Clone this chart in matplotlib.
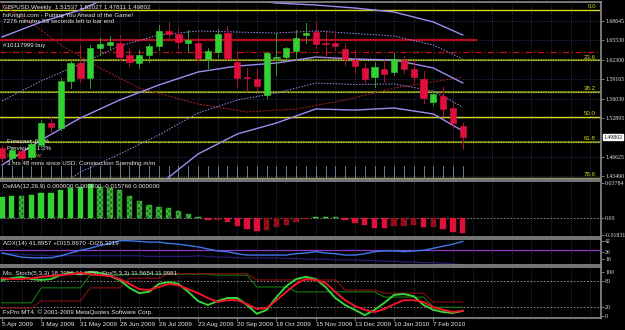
import numpy as np
import pandas as pd
import matplotlib.pyplot as plt
from matplotlib.patches import Rectangle

plt.rcParams['font.family'] = 'Liberation Sans'
plt.rcParams['font.size'] = 4.5

W, H = 625, 330
GRID = '#34386a'
AXC = '#8c8c8c'
TXT = '#e6e6e6'
LAV = '#9d8cf0'
UP = '#33d133'
DN = '#e0103c'

# ---- weekly GBPUSD bars (5 Apr 2009 .. 28 Feb 2010)
dates = pd.date_range('2009-04-05', periods=48, freq='7D')
op = [1.4803, 1.4641, 1.4755, 1.4657, 1.4852, 1.5210, 1.5128, 1.5892, 1.6184, 1.5940,
      1.6427, 1.6476, 1.6509, 1.6314, 1.6184, 1.6314, 1.6460, 1.6704, 1.6655, 1.6509,
      1.6509, 1.6249, 1.6362, 1.6671, 1.6200, 1.5957, 1.5924, 1.5664, 1.6265, 1.6281,
      1.6379, 1.6639, 1.6687, 1.6509, 1.6509, 1.6411, 1.6233, 1.6103, 1.5957, 1.6086,
      1.6038, 1.6233, 1.6086, 1.5924, 1.5551, 1.5648, 1.5453, 1.51537]
hi = [1.4852, 1.4820, 1.4803, 1.4934, 1.5258, 1.5307, 1.5940, 1.6233, 1.6476, 1.6476,
      1.6590, 1.6622, 1.6639, 1.6427, 1.6395, 1.6492, 1.6801, 1.6850, 1.6752, 1.6720,
      1.6622, 1.6427, 1.6736, 1.6785, 1.6362, 1.6103, 1.6086, 1.6362, 1.6671, 1.6444,
      1.6720, 1.6833, 1.6850, 1.6720, 1.6687, 1.6509, 1.6395, 1.6184, 1.6200, 1.6233,
      1.6346, 1.6298, 1.6233, 1.6054, 1.5713, 1.5794, 1.5551, 1.52027]
lo = [1.4576, 1.4592, 1.4592, 1.4625, 1.4820, 1.5047, 1.5096, 1.5778, 1.5875, 1.5778,
      1.6314, 1.6395, 1.6233, 1.6135, 1.6103, 1.6200, 1.6395, 1.6590, 1.6427, 1.6362,
      1.6200, 1.6103, 1.6281, 1.6233, 1.5794, 1.5745, 1.5745, 1.5615, 1.5989, 1.6233,
      1.6233, 1.6509, 1.6427, 1.6281, 1.6395, 1.6151, 1.6022, 1.5875, 1.5794, 1.5875,
      1.5989, 1.6022, 1.5859, 1.5534, 1.5502, 1.5323, 1.5128, 1.47811]
cl = [1.4641, 1.4771, 1.4641, 1.4868, 1.5210, 1.5145, 1.5892, 1.6184, 1.5940, 1.6427,
      1.6492, 1.6525, 1.6281, 1.6200, 1.6314, 1.6460, 1.6704, 1.6655, 1.6525, 1.6557,
      1.6265, 1.6379, 1.6655, 1.6265, 1.5940, 1.5940, 1.5810, 1.6346, 1.6281, 1.6427,
      1.6590, 1.6671, 1.6492, 1.6492, 1.6460, 1.6249, 1.6135, 1.5924, 1.6119, 1.6005,
      1.6249, 1.6086, 1.5957, 1.5615, 1.5680, 1.5437, 1.5210, 1.49802]

# ---- overlay lines on the price chart (anchor bar, price)
band_x = [0, 4, 8, 12, 16, 20, 24, 28, 32, 36, 40, 44, 47]
band_mid = [1.4527, 1.4934, 1.5291, 1.5583, 1.5827, 1.6038, 1.6135, 1.6184, 1.6281, 1.6249, 1.6233, 1.6103, 1.5859]
band_up = [1.6606, 1.6850, 1.7045, 1.7337, 1.7451, 1.7369, 1.7240, 1.7158, 1.7126, 1.7077, 1.7012, 1.6850, 1.6639]
band_up1 = [1.5567, 1.5892, 1.6168, 1.6460, 1.6639, 1.6704, 1.6687, 1.6671, 1.6704, 1.6663, 1.6622, 1.6476, 1.6249]
band_lo1 = [1.3487, 1.3975, 1.4413, 1.4706, 1.5015, 1.5372, 1.5583, 1.5697, 1.5859, 1.5835, 1.5843, 1.5729, 1.5469]
band_lo = [1.2450, 1.3000, 1.3537, 1.3829, 1.4202, 1.4706, 1.5031, 1.5210, 1.5437, 1.5420, 1.5453, 1.5356, 1.5080]
ma_x = [0, 4, 6, 10, 14, 20, 25, 30, 35, 40, 47]
ma_long = [1.7126, 1.6720, 1.6476, 1.6103, 1.5778, 1.5518, 1.5388, 1.5437, 1.5583, 1.5778, 1.5956]

order_price = 1.6557
stop_price = 1.6362
fib_names = ['0.0', '23.6', '38.2', '50.0', '61.8', '78.6']
fib_prices = [1.7045, 1.6226, 1.5719, 1.5310, 1.4901, 1.4318]
price_ticks = [1.68645, 1.65530, 1.62300, 1.59165, 1.56030, 1.52895, 1.46625, 1.43490]
last_price = 1.49802

# ---- OsMA(12,26,9)
osma = [0.0227, 0.0238, 0.0235, 0.0249, 0.0270, 0.0272, 0.0303, 0.0324, 0.0335, 0.0368,
        0.0335, 0.0324, 0.0303, 0.0238, 0.0184, 0.0141, 0.0119, 0.0108, 0.0076, 0.0043,
        0.0011, -0.0022, -0.0022, -0.0043, -0.0086, -0.0119, -0.0141, -0.0130, -0.0097, -0.0076,
        -0.0043, -0.0011, 0.0008, 0.0012, 0.0010, -0.0022, -0.0054, -0.0076, -0.0108, -0.0110,
        -0.0086, -0.0086, -0.0076, -0.0097, -0.0097, -0.0119, -0.0151, -0.0158]

# ---- ADX(14)
adx = [25, 22, 19, 18, 18, 18, 21, 25, 29, 32, 36, 39, 43, 43, 42, 41, 41, 39, 38, 36,
       34, 31, 28, 27, 24, 22, 22, 22, 22, 22, 24, 25, 27, 25, 24, 22, 22, 24, 27, 28,
       28, 27, 28, 29, 32, 35, 38, 41.9]
di_line = [25, 24, 23, 22, 22, 21, 21, 21, 21, 21, 21, 21, 21, 21, 21, 20, 20, 20, 20, 20,
           21, 20, 19, 19, 18, 18, 18, 18, 18, 17, 17, 16, 16, 16, 15, 15, 15, 14, 14, 13,
           13, 12, 12, 11, 11, 10, 9, 8]
adx_level = 30

# ---- Stochastic(5,3,3) weekly and monthly
stoch_k = [82, 86, 89, 84, 82, 84, 93, 98, 95, 100, 98, 91, 82, 64, 52, 55, 73, 77, 73, 55,
           34, 25, 34, 41, 41, 25, 5, 14, 43, 68, 84, 89, 84, 66, 41, 25, 14, 2, 14, 30,
           48, 50, 45, 25, 14, 9, 7, 11.6]
stoch_d = [86, 84, 84, 86, 89, 91, 93, 95, 98, 95, 93, 91, 84, 73, 61, 59, 66, 73, 70, 61,
           52, 41, 32, 36, 36, 27, 16, 18, 36, 55, 73, 84, 82, 75, 55, 36, 23, 14, 9, 16,
           27, 36, 36, 32, 20, 14, 9, 12]
mo_k = [30] * 4 + [64] * 5 + [93] * 4 + [95] * 4 + [95] * 5 + [93] * 4 + [66] * 4 + [55] * 9 + [43] * 5 + [20] * 4
mo_d = [18] * 4 + [34] * 5 + [64] * 4 + [86] * 4 + [96] * 9 + [82] * 9 + [59] * 4 + [52] * 5 + [32] * 4


def pane(top, bottom):
    a = fig.add_axes([0, 1 - bottom / H, 601 / W, (bottom - top) / H], facecolor='black')
    a.set_xlim(-0.2, 61.1)
    for s in a.spines.values():
        s.set_color(AXC)
        s.set_linewidth(1.2)
    a.spines['left'].set_visible(False)
    a.yaxis.tick_right()
    a.tick_params(axis='y', colors=AXC, labelcolor=TXT, length=2, width=0.6, pad=1, labelsize=4.2)
    a.tick_params(axis='x', length=0, labelbottom=False)
    for gx in range(0, 62, 2):
        a.axvline(gx, color=GRID, lw=0.6, ls=(0, (1, 1.5)), zorder=0)
    return a


fig = plt.figure(figsize=(W / 100, H / 100), dpi=100, facecolor='black')

# ================= main price pane
ax = pane(2, 179)
ax.set_ylim(1.4300, 1.7175)
ax.set_yticks(price_ticks)
ax.set_yticklabels(['%.5f' % p for p in price_ticks], family='Liberation Serif')
for p in price_ticks:
    ax.axhline(p, color=GRID, lw=0.6, ls=(0, (1, 1.5)), zorder=0)

for name, p in zip(fib_names, fib_prices):
    if name in ('0.0', '50.0', '78.6'):
        ax.axhline(p, color='#d6d61c', lw=1.0, zorder=1)
    else:
        ax.axhline(p, color='#6f7a10', lw=1.3, zorder=1)
        ax.axhline(p, color='#c8d040', lw=0.9, ls=(0, (1, 1)), zorder=1)
    ax.text(60.6, p + 0.0012, name, color='#d6d61c', ha='right', va='bottom', fontsize=4.4)

ax.axhline(order_price, xmax=48.5 / 61.3, color='#b3101e', lw=1.6, zorder=1)
ax.axhline(stop_price, color='#c0101e', lw=0.9, ls=(0, (5, 2, 1, 2)), zorder=1)

ax.plot(ma_x, ma_long, color='#8a1c1c', lw=0.8, ls=(0, (2, 1)), zorder=2)
ax.plot(band_x, band_up, color=LAV, lw=1.0, zorder=2)
ax.plot(band_x, band_mid, color=LAV, lw=1.0, zorder=2)
ax.plot(band_x, band_lo, color=LAV, lw=1.0, zorder=2)
ax.plot(band_x, band_up1, color=LAV, lw=0.7, ls=(0, (1.5, 1.5)), zorder=2)
ax.plot(band_x, band_lo1, color=LAV, lw=0.7, ls=(0, (1.5, 1.5)), zorder=2)

# small event markers along the bottom of the price pane
for i in range(len(cl)):
    ax.plot([i, i], [1.4318, 1.4510], color='#6f93b3', lw=0.6, zorder=1)

for i, (o, h, l, c) in enumerate(zip(op, hi, lo, cl)):
    up = c >= o
    wick = '#2c9c2c' if up else '#b01038'
    ax.plot([i, i], [l, h], color=wick, lw=0.7, zorder=3)
    if abs(c - o) < 0.0008:
        ax.plot([i - 0.3, i + 0.3], [c, c], color=wick, lw=1.0, zorder=4)
    else:
        ax.add_patch(Rectangle((i - 0.32, min(o, c)), 0.64, abs(c - o),
                               facecolor=UP if up else DN, edgecolor=UP if up else DN,
                               lw=0.4, zorder=4))

ax.text(1.004, last_price, '%.5f' % last_price, transform=ax.get_yaxis_transform(),
        color='black', fontsize=4.2, family='Liberation Serif', va='center', ha='left',
        bbox=dict(boxstyle='square,pad=0.1', fc='white', ec='white'))

ax.text(0.005, 0.985, 'GBPUSD,Weekly  1.51537 1.52027 1.47811 1.49802', transform=ax.transAxes,
        color=TXT, va='top', ha='left')
ax.text(0.005, 0.94, 'fxKnight.com - Putting You Ahead of the Game!', transform=ax.transAxes,
        color=TXT, va='top', ha='left')
ax.text(0.005, 0.905, '7276 minutes 53 seconds left to bar end', transform=ax.transAxes,
        color=TXT, va='top', ha='left')
ax.text(0.005, 0.77, '#10117999 buy', transform=ax.transAxes, color=TXT, va='top', ha='left')
ax.text(0.012, 0.225, 'Forecast  0.4%', transform=ax.transAxes, color=TXT, va='top', ha='left')
ax.text(0.012, 0.185, 'Previous  -1.2%', transform=ax.transAxes, color=TXT, va='top', ha='left')
ax.text(0.012, 0.145, 'Impact  Low', transform=ax.transAxes, color='#e08a20', va='top', ha='left')
ax.text(0.012, 0.10, '3 hrs 48 mins since USD: Construction Spending m/m', transform=ax.transAxes,
        color=TXT, va='top', ha='left')

# ================= OsMA pane
ax2 = pane(181, 237)
ax2.set_ylim(-0.0205, 0.0400)
ax2.set_yticks([0.03784, 0.0, -0.01831])
ax2.set_yticklabels(['0.03784', '0.00', '-0.01831'], family='Liberation Serif')
ax2.axhline(0, color='#9a9a9a', lw=0.6, ls=(0, (2, 2)), zorder=1)
prev = osma[0]
for i, v in enumerate(osma):
    rising = v >= prev
    prev = v
    if v >= 0:
        fc, hatch = (UP, None) if rising else ('#1f6e1f', 'xxxxxx')
        ec = UP if rising else '#3cb83c'
    else:
        fc, hatch = (DN, None) if not rising else ('#7a0a14', 'xxxxxx')
        ec = DN if not rising else '#a01020'
    ax2.bar(i, v, width=0.55, color=fc, edgecolor=ec, hatch=hatch, lw=0.3, zorder=3)
ax2.text(0.005, 0.95, 'OsMA(12,26,9) 0.000000 0.000000 -0.015766 0.000000', transform=ax2.transAxes,
         color=TXT, va='top', ha='left')

# ================= ADX pane
ax3 = pane(239, 265)
ax3.set_ylim(7.5, 45.5)
ax3.set_yticks([41.9, 26.3, 15.9])
ax3.set_yticklabels(['42', '26', '16'], family='Liberation Serif')
ax3.axhline(adx_level, color='#8a3cc8', lw=0.9, zorder=1)
x = np.arange(len(adx))
ax3.plot(x, di_line, color='#20206e', lw=0.9, zorder=2)
ax3.plot(x, adx, color='#3f78e8', lw=1.0, zorder=3)
ax3.text(0.005, 0.93, 'ADX(14) 41.8957 +DI15.8670 -DI26.3219', transform=ax3.transAxes,
         color=TXT, va='top', ha='left')

# ================= Stochastic pane
ax4 = pane(267, 318)
ax4.set_ylim(-4.5, 111.4)
ax4.set_yticks([100, 80, 20, 0])
ax4.set_yticklabels(['100', '80', '20', '0'], family='Liberation Serif')
for lv in (80, 20):
    ax4.axhline(lv, color='#a0a0a0', lw=0.6, ls=(0, (2, 2)), zorder=1)
ax4.plot(x, mo_k, color='#127a12', lw=0.8, zorder=2)
ax4.plot(x, mo_d, color='#8a0f0f', lw=0.8, zorder=2)
ax4.plot(x, stoch_k, color='#3ad23a', lw=1.4, zorder=3)
ax4.plot(x, stoch_d, color='#f0142a', lw=1.4, zorder=4)
ax4.text(0.005, 0.93, 'Mo. Stoch(5,3,3) 18.2956 16.8250  Sto(5,3,3) 11.5654 11.9981',
         transform=ax4.transAxes, color=TXT, va='top', ha='left')
ax4.text(0.005, 0.17, 'FxPro MT4, \u00a9 2001-2009 MetaQuotes Software Corp.',
         transform=ax4.transAxes, color=TXT, va='top', ha='left')

tick_idx = list(range(0, 48, 4))
ax4.set_xticks(tick_idx)
ax4.set_xticklabels([dates[i].strftime('%-d %b %Y') for i in tick_idx], ha='left')
ax4.tick_params(axis='x', length=2, width=0.6, colors=AXC, labelcolor=TXT, labelbottom=True,
                pad=1, labelsize=4.6)

fig.savefig('out.png', dpi=100, facecolor='black')
